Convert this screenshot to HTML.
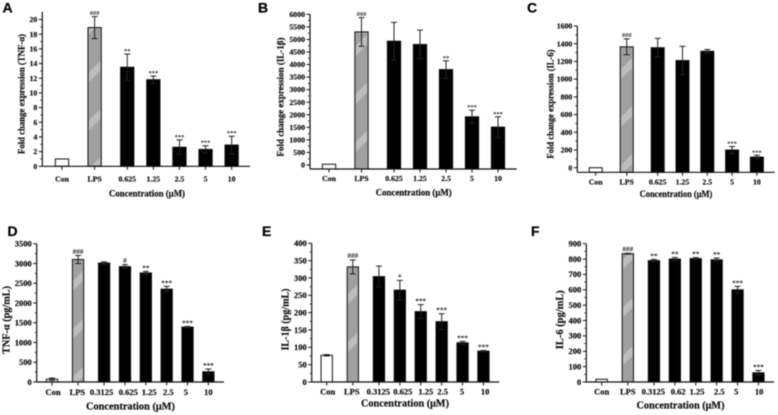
<!DOCTYPE html>
<html lang="en">
<head>
<meta charset="utf-8">
<title>Cytokine expression bar charts</title>
<style>
html,body{margin:0;padding:0;background:#fff;width:778px;height:415px;overflow:hidden}
svg{display:block;filter:blur(0.4px)}
text{font-family:"Liberation Serif",serif;font-weight:bold;fill:#111;stroke:#111;stroke-width:0.2px}
.letter{font-family:"Liberation Sans",sans-serif;font-size:14px;fill:#000;stroke:#000}
</style>
</head>
<body>
<svg id="figure" width="778" height="415" viewBox="0 0 778 415" xmlns="http://www.w3.org/2000/svg">
<defs>
<pattern id="hatch" width="2" height="2" patternUnits="userSpaceOnUse">
<rect width="2" height="2" fill="#d2d2d2"/>
<rect width="1" height="1" fill="#6e6e6e"/>
<rect x="1" y="1" width="1" height="1" fill="#6e6e6e"/>
</pattern>
<pattern id="bands" width="34" height="34" patternUnits="userSpaceOnUse" patternTransform="rotate(-45)">
<rect y="12" width="34" height="7" fill="#fff" fill-opacity="0.3"/>
</pattern>
</defs>
</svg>
<script>
const aCategories = ['Con','LPS','0.625','1.25','2.5','5','10'];
const aValues = [1,18.9,13.5,11.8,2.6,2.3,2.9];
const aErrors = [0,1.5,1.8,0.5,1,0.5,1.2];
const aStars = ['','###','**','***','***','***','***'];
const aTicks = [0,2,4,6,8,10,12,14,16,18,20];

const bCategories = ['Con','LPS','0.625','1.25','2.5','5','10'];
const bValues = [30,5300,4930,4800,3800,1920,1510];
const bErrors = [0,570,750,570,350,260,410];
const bStars = ['','###','','','**','***','***'];
const bTicks = [0,500,1000,1500,2000,2500,3000,3500,4000,4500,5000,5500,6000];

const cCategories = ['Con','LPS','0.625','1.25','2.5','5','10'];
const cValues = [0,1365,1355,1210,1315,200,120];
const cErrors = [0,90,105,160,20,40,20];
const cStars = ['','###','','','','***','***'];
const cTicks = [0,200,400,600,800,1000,1200,1400,1600];

const dCategories = ['Con','LPS','0.3125','0.625','1.25','2.5','5','10'];
const dValues = [70,3100,3010,2920,2760,2350,1390,260];
const dErrors = [30,100,30,50,40,70,15,70];
const dStars = ['','###','','#','**','***','***','***'];
const dTicks = [0,500,1000,1500,2000,2500,3000,3500];

const eCategories = ['Con','LPS','0.3125','0.625','1.25','2.5','5','10'];
const eValues = [77,332,304,265,203,174,113,89];
const eErrors = [2,20,30,28,20,23,4,2];
const eStars = ['','###','','*','***','***','***','***'];
const eTicks = [0,50,100,150,200,250,300,350,400];

const fCategories = ['Con','LPS','0.3125','0.62','1.25','2.5','5','10'];
const fValues = [18,835,790,800,803,795,600,60];
const fErrors = [0,3,8,10,6,12,22,15];
const fStars = ['','###','**','**','**','**','***','***'];
const fTicks = [0,100,200,300,400,500,600,700,800,900];

const NS = 'http://www.w3.org/2000/svg';
const figure = document.getElementById('figure');

function make(parent, tag, attrs, content) {
  const node = document.createElementNS(NS, tag);
  for (const key in attrs) node.setAttribute(key, attrs[key]);
  if (content !== undefined) node.textContent = content;
  parent.appendChild(node);
  return node;
}

function drawPanel(cfg, categories, values, errors, stars, ticks) {
  const group = make(figure, 'g', {});
  
  

  const maxTick = ticks[ticks.length - 1];
  const yScale = v => cfg.y0 - (v / maxTick) * (cfg.y0 - cfg.yTop);
  const xScale = i => cfg.x0 + cfg.step * (i < 3 ? i * 1.25 : i + 0.5);
  const barW = cfg.barW;

  const letter = make(group, 'text', {x: cfg.letterX, y: cfg.letterY, class: 'letter'}, cfg.id);
  
  

  values.forEach((v, i) => {
    const cx = xScale(i);
    const top = yScale(v);
    const bottom = cfg.axisY;
    const isControl = i === 0;
    const isLps = i === 1;
    const bar = make(group, 'rect', {
      x: cx - barW / 2, y: top, width: barW, height: Math.max(bottom - top, 0),
      fill: isControl ? '#fff' : (isLps ? 'url(#hatch)' : '#000'),
      stroke: '#111', 'stroke-width': 1
    });
    
    
    if (isLps) {
      const sheen = make(group, 'rect', {x: cx - barW / 2 + 1, y: top + 1, width: barW - 2, height: Math.max(bottom - top - 2, 0), fill: 'url(#bands)'});
      
      
    }
    const err = errors[i];
    if (err > 0) {
      const hi = yScale(v + err);
      const lo = yScale(v - err);
      const errorBar = make(group, 'path', {
        d: 'M' + cx + ' ' + lo + 'V' + hi + 'M' + (cx - 3) + ' ' + hi + 'H' + (cx + 3) + 'M' + (cx - 3) + ' ' + lo + 'H' + (cx + 3),
        stroke: '#222', 'stroke-width': 1, fill: 'none'
      });
      
      
    }
    if (stars[i]) {
      const mark = make(group, 'text', {
        x: cx, y: yScale(v + err) + (stars[i][0] === '#' ? -1.8 : -1),
        'text-anchor': 'middle', 'font-size': cfg.starSize,
        style: 'fill:#222;stroke:none'
      }, stars[i]);
      
      
    }
    const nudge = cfg.nudge ? cfg.nudge[i] : 0;
    const label = make(group, 'text', {
      x: cx + nudge, y: cfg.axisY + cfg.labelGap, 'text-anchor': 'middle', 'font-size': cfg.tickSize
    }, categories[i]);
    
    
    const tick = make(group, 'line', {x1: cx, x2: cx, y1: cfg.axisY, y2: cfg.axisY + 3.5, stroke: '#111', 'stroke-width': 1});
    
    
  });

  const xAxis = make(group, 'line', {x1: cfg.axisX, x2: cfg.xEnd, y1: cfg.axisY, y2: cfg.axisY, stroke: '#111', 'stroke-width': 1.2});
  
  
  const yAxis = make(group, 'line', {x1: cfg.axisX, x2: cfg.axisX, y1: cfg.axisY, y2: cfg.axisTop, stroke: '#111', 'stroke-width': 1.2});
  
  

  ticks.forEach((t, i) => {
    const y = yScale(t);
    const major = make(group, 'line', {x1: cfg.axisX - 3.5, x2: cfg.axisX, y1: y, y2: y, stroke: '#111', 'stroke-width': 1});
    
    
    const label = make(group, 'text', {x: cfg.axisX - 5, y: y + cfg.tickSize * 0.33, 'text-anchor': 'end', 'font-size': cfg.tickSize}, t);
    
    
    if (i < ticks.length - 1) {
      const my = yScale((t + ticks[i + 1]) / 2);
      const minor = make(group, 'line', {x1: cfg.axisX - 2, x2: cfg.axisX, y1: my, y2: my, stroke: '#111', 'stroke-width': 0.8});
      
      
    }
  });

  const xTitle = make(group, 'text', {x: cfg.xTitleX, y: cfg.xTitleY, 'text-anchor': 'middle', 'font-size': cfg.titleSize, textLength: cfg.xTitleLen, lengthAdjust: 'spacingAndGlyphs'}, 'Concentration (μM)');
  
  
  const yTitle = make(group, 'text', {
    transform: 'translate(' + cfg.yTitleX + ' ' + cfg.yTitleY + ') rotate(-90)',
    'text-anchor': 'middle', 'font-size': cfg.titleSize, textLength: cfg.yTitleLen, lengthAdjust: 'spacingAndGlyphs'
  }, cfg.yTitle);
  
  
}

drawPanel({id:'A',letterX:2.5,letterY:12.5,x0:62,step:26.1,barW:13.3,axisX:42.3,axisY:166.3,axisTop:11.7,y0:166.3,yTop:19.5,xEnd:250,labelGap:15,tickSize:7.8,starSize:6.5,titleSize:9,xTitleX:147,xTitleY:196.3,xTitleLen:76,yTitleX:24.3,yTitleY:94,yTitleLen:120,yTitle:'Fold change expression (TNF-α)'}, aCategories, aValues, aErrors, aStars, aTicks);

drawPanel({id:'B',letterX:258,letterY:12.5,x0:329,step:26,barW:13.3,axisX:310,axisY:169,axisTop:14.3,y0:165,yTop:14.3,xEnd:516.7,labelGap:12,tickSize:7.8,starSize:6.5,titleSize:9,xTitleX:413.7,xTitleY:195.7,xTitleLen:76,yTitleX:283.7,yTitleY:97,yTitleLen:119,yTitle:'Fold change expression (IL-1β)'}, bCategories, bValues, bErrors, bStars, bTicks);

drawPanel({id:'C',letterX:527,letterY:12.5,x0:595.7,step:24.8,barW:13,axisX:577.3,axisY:172.3,axisTop:26,y0:167.7,yTop:26,xEnd:774.7,labelGap:12,tickSize:7.8,starSize:6.5,titleSize:9,xTitleX:676,xTitleY:197,xTitleLen:72.7,yTitleX:553.3,yTitleY:104,yTitleLen:109,yTitle:'Fold change expression (IL-6)'}, cCategories, cValues, cErrors, cStars, cTicks);

drawPanel({id:'D',letterX:7.5,letterY:236,x0:52,step:20.85,barW:11.3,axisX:36.7,axisY:382,axisTop:243.7,y0:382,yTop:243.7,xEnd:224,labelGap:13,tickSize:8.5,starSize:7.2,titleSize:10.5,nudge:[1,-0.7,-2.6,3.3,3.3,1.6,-1.7,0],xTitleX:130.5,xTitleY:409.5,xTitleLen:89,yTitleX:9.5,yTitleY:320,yTitleLen:68,yTitle:'TNF-α (pg/mL)'}, dCategories, dValues, dErrors, dStars, dTicks);

drawPanel({id:'E',letterX:262,letterY:236,x0:326.7,step:20.9,barW:11.3,axisX:311.7,axisY:382,axisTop:243.3,y0:382,yTop:243.3,xEnd:499.3,labelGap:12.5,tickSize:8.5,starSize:7.2,titleSize:10.5,nudge:[1,-1,-0.7,3,5,1,-0.6,1.7],xTitleX:405,xTitleY:406.5,xTitleLen:88,yTitleX:288.5,yTitleY:319.5,yTitleLen:62,yTitle:'IL-1β (pg/mL)'}, eCategories, eValues, eErrors, eStars, eTicks);

drawPanel({id:'F',letterX:531,letterY:236,x0:601.7,step:20.9,barW:11.3,axisX:586.3,axisY:382,axisTop:243.7,y0:382,yTop:243.7,xEnd:774,labelGap:12.5,tickSize:8.5,starSize:7.2,titleSize:10.5,nudge:[0,0,-0.7,3.3,1.3,2.7,-1.3,0.7],xTitleX:680.5,xTitleY:408.5,xTitleLen:88,yTitleX:563,yTitleY:319.7,yTitleLen:59,yTitle:'IL-6 (pg/mL)'}, fCategories, fValues, fErrors, fStars, fTicks);
</script>
</body>
</html>
